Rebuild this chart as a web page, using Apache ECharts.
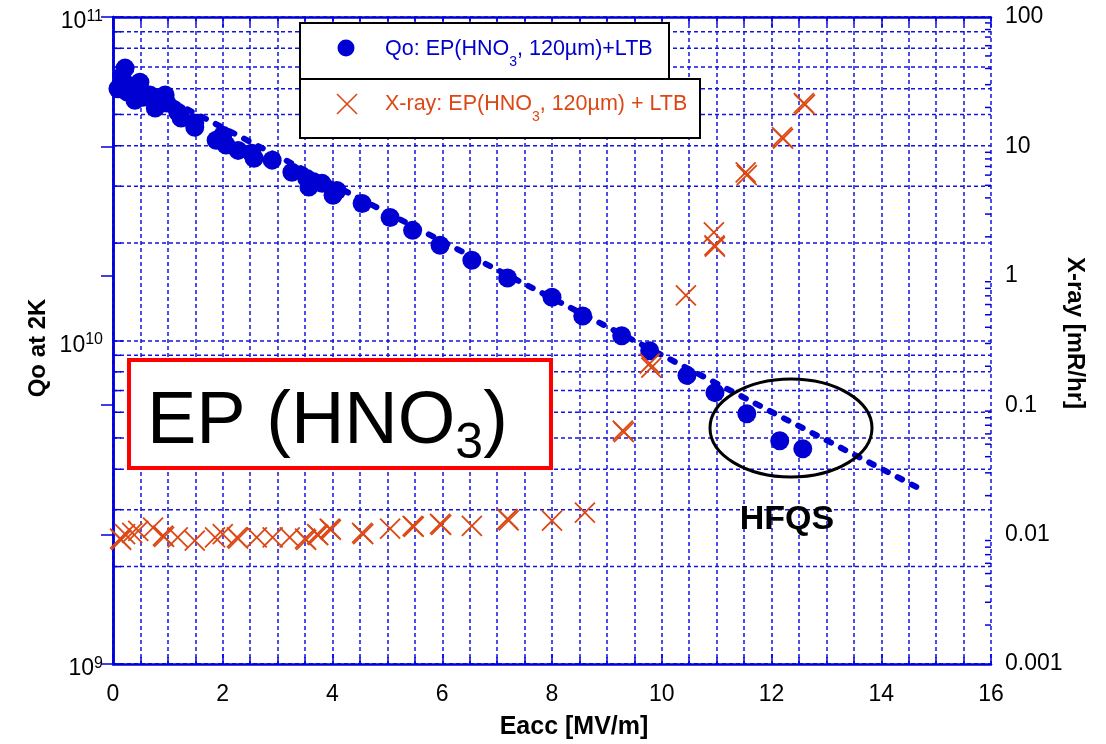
<!DOCTYPE html>
<html>
<head>
<meta charset="utf-8">
<script src="https://cdn.jsdelivr.net/npm/echarts@6/dist/echarts.min.js"></script>
<style>
  html, body { margin: 0; padding: 0; background: #fff; }
  #chart { width: 1106px; height: 744px; }
</style>
</head>
<body>
<div id="chart"></div>
<script>
// Qo at 2K versus accelerating gradient (EP in HNO3, 120 um removal + LTB)
const qoEacc = [0.09, 0.18, 0.22, 0.26, 0.36, 0.40, 0.49, 0.55, 0.67, 0.77, 0.77, 0.95, 0.98,
  1.18, 1.24, 1.49, 1.49, 1.88, 2.00, 2.06, 2.28, 2.53, 2.57, 2.90, 3.26, 3.53, 3.57, 3.81,
  4.01, 4.08, 4.54, 5.05, 5.46, 5.96, 6.54, 7.19, 8.00, 8.56, 9.27, 9.78, 10.46, 10.97,
  11.55, 12.15, 12.57];
const qoValue = [6.0e10, 6.38e10, 6.95e10, 5.86e10, 6.07e10, 5.53e10, 6.29e10, 5.65e10, 5.74e10,
  5.61e10, 5.23e10, 5.74e10, 5.42e10, 5.08e10, 4.87e10, 4.70e10, 4.56e10, 4.16e10, 4.31e10,
  4.02e10, 3.87e10, 3.79e10, 3.66e10, 3.61e10, 3.31e10, 3.17e10, 2.98e10, 3.06e10, 2.81e10,
  2.91e10, 2.65e10, 2.40e10, 2.19e10, 1.97e10, 1.77e10, 1.56e10, 1.36e10, 1.19e10, 1.035e10,
  9.3e9, 7.8e9, 6.9e9, 5.94e9, 4.90e9, 4.63e9];

// Exponential trend line (end points)
const fitEacc = [-0.2, 14.75];
const fitQo = [7.1e10, 3.45e9];

// Radiation level [mR/hr]
const xrayEacc = [0.13, 0.15, 0.22, 0.35, 0.46, 0.73, 0.91, 0.93, 1.18, 1.49, 1.86, 2.00, 2.26, 2.28,
  2.62, 2.91, 3.22, 3.50, 3.52, 3.72, 3.74, 3.95, 3.97, 4.54, 4.56, 5.05, 5.46, 5.48, 5.96, 5.98,
  6.54, 7.19, 7.21, 8.00, 8.60, 9.29, 9.31, 9.78, 9.81, 10.44, 10.95, 10.96, 10.97, 11.53, 11.55,
  12.19, 12.21, 12.59, 12.61];
const xrayValue = [0.0093, 0.0091, 0.0101, 0.0103, 0.0107, 0.0113, 0.0098, 0.0096, 0.0095, 0.0090,
  0.0095, 0.0101, 0.0095, 0.0093, 0.0095, 0.0095, 0.0095, 0.0093, 0.0091, 0.0101, 0.0099, 0.0111,
  0.0109, 0.0103, 0.0101, 0.0111, 0.0117, 0.0115, 0.0121, 0.0119, 0.0117, 0.0132, 0.0129, 0.0128,
  0.0148, 0.0636, 0.062, 0.21, 0.195, 0.705, 2.17, 1.72, 1.68, 6.3, 6.0, 11.8, 11.5, 21.6, 21.0];

// Axis ticks
const xTickLabels = ['0', '2', '4', '6', '8', '10', '12', '14', '16'];
const qoTickExponents = ['9', '10', '11'];
const qoMinorTicks = [2e9, 3e9, 4e9, 5e9, 6e9, 7e9, 8e9, 9e9, 2e10, 3e10, 4e10, 5e10, 6e10, 7e10, 8e10, 9e10];
const xrayTickLabels = ['0.001', '0.01', '0.1', '1', '10', '100'];
const xrayMinorTicks = [];
[0.001, 0.01, 0.1, 1, 10].forEach(function (d) {
  [2, 3, 4, 5, 6, 7, 8, 9].forEach(function (m) { xrayMinorTicks.push(+(d * m).toPrecision(3)); });
});

const FONT = "'Liberation Sans', Arial, Helvetica, sans-serif";
const AXIS = '#0000dd';
const GRID = '#1414e0';
const BLUE = '#0000d2';
const ORANGE = '#dc4814';
const X_MIN = 0, X_MAX = 16;

const chart = echarts.init(document.getElementById('chart'), null, { renderer: 'canvas' });

function minorGrid(params, api) {
  const v = api.value(1);
  const a = api.coord([X_MIN, v]);
  const b = api.coord([X_MAX, v]);
  return {
    type: 'group',
    children: [
      { type: 'line', shape: { x1: a[0], y1: a[1], x2: b[0], y2: b[1] },
        style: { stroke: GRID, lineWidth: 1.5, lineDash: [4, 3] } },
      { type: 'line', shape: { x1: a[0], y1: a[1], x2: a[0] + 8, y2: a[1] },
        style: { stroke: AXIS, lineWidth: 1.5 } }
    ]
  };
}

function rightMinorTick(params, api) {
  const p = api.coord([X_MAX, api.value(1)]);
  return { type: 'line', shape: { x1: p[0] - 6, y1: p[1], x2: p[0], y2: p[1] },
    style: { stroke: AXIS, lineWidth: 1.5 } };
}

// rich text with a lowered subscript: the main token is centred in the line,
// the subscript sits at the bottom of a taller line box
function subText(main, sub, tail, size, subSize, drop, color) {
  return {
    text: '{a|' + main + '}{s|' + sub + '}{a|' + tail + '}',
    align: 'left', verticalAlign: 'middle',
    rich: {
      a: { fontFamily: FONT, fontSize: size, fill: color, verticalAlign: 'middle' },
      s: { fontFamily: FONT, fontSize: subSize, lineHeight: 2 * drop + subSize, fill: color, verticalAlign: 'bottom' }
    }
  };
}

const option = {
  backgroundColor: '#ffffff',
  animation: false,
  grid: { left: 113, right: 115, top: 17, bottom: 80, containLabel: false },
  xAxis: [{
    type: 'value', min: X_MIN, max: X_MAX, interval: 2, position: 'bottom',
    axisLine: { lineStyle: { color: AXIS, width: 2.5 } },
    axisTick: { inside: true, length: 10, lineStyle: { color: AXIS, width: 1.5 } },
    minorTick: { show: true, splitNumber: 4, length: 7, lineStyle: { color: AXIS, width: 1.5 } },
    splitLine: { show: true, lineStyle: { color: GRID, width: 1.5, type: [4, 3] } },
    minorSplitLine: { show: true, lineStyle: { color: GRID, width: 1.5, type: [4, 3] } },
    axisLabel: { fontFamily: FONT, fontSize: 23, color: '#000', margin: 19,
      formatter: function (v) { return xTickLabels[Math.round(v / 2)]; } }
  }, {
    type: 'value', min: X_MIN, max: X_MAX, interval: 2, position: 'top',
    axisLine: { lineStyle: { color: AXIS, width: 2.5 } },
    axisTick: { inside: true, length: 10, lineStyle: { color: AXIS, width: 1.5 } },
    minorTick: { show: true, splitNumber: 4, length: 7, lineStyle: { color: AXIS, width: 1.5 } },
    splitLine: { show: false }, axisLabel: { show: false }
  }],
  yAxis: [{
    type: 'log', logBase: 10, min: 1e9, max: 1e11, position: 'left',
    axisLine: { show: true, lineStyle: { color: AXIS, width: 2.5 } },
    axisTick: { inside: true, length: 10, lineStyle: { color: AXIS, width: 1.5 } },
    splitLine: { show: true, lineStyle: { color: GRID, width: 1.5, type: [4, 3] } },
    axisLabel: {
      margin: 10, showMinLabel: true, showMaxLabel: true, padding: [10, 0, 0, 0],
      formatter: function (v) {
        const e = Math.round(Math.log10(v));
        return '{b|10}{s|' + qoTickExponents[e - 9] + '}';
      },
      rich: {
        b: { fontFamily: FONT, fontSize: 23, lineHeight: 23, color: '#000', verticalAlign: 'bottom' },
        s: { fontFamily: FONT, fontSize: 16, lineHeight: 16, color: '#000', verticalAlign: 'bottom',
             padding: [0, 0, 9, 0] }
      }
    }
  }, {
    type: 'log', logBase: 10, min: 0.001, max: 100, position: 'right',
    axisLine: { show: true, lineStyle: { color: AXIS, width: 2.5 } },
    axisTick: { show: true, inside: true, length: 12, lineStyle: { color: AXIS, width: 1.5 } },
    splitLine: { show: false },
    axisLabel: {
      fontFamily: FONT, fontSize: 23, color: '#000', margin: 14, showMinLabel: true, showMaxLabel: true,
      formatter: function (v) { return xrayTickLabels[Math.round(Math.log10(v)) + 3]; }
    }
  }],
  series: [{
    type: 'custom', name: 'qoGrid', xAxisIndex: 0, yAxisIndex: 0, silent: true, z: 1,
    renderItem: minorGrid,
    data: qoMinorTicks.map(function (v) { return [X_MIN, v]; })
  }, {
    type: 'custom', name: 'xrayTicks', xAxisIndex: 0, yAxisIndex: 1, silent: true, z: 1,
    renderItem: rightMinorTick,
    data: xrayMinorTicks.map(function (v) { return [X_MAX, v]; })
  }, {
    type: 'line', name: 'fit', xAxisIndex: 0, yAxisIndex: 0, clip: false, z: 3,
    symbol: 'none', silent: true,
    lineStyle: { color: BLUE, width: 6, type: [5, 11], cap: 'round' },
    data: fitEacc.map(function (e, i) { return [e, fitQo[i]]; })
  }, {
    type: 'scatter', name: 'Qo', xAxisIndex: 0, yAxisIndex: 0, z: 4,
    symbol: 'circle', symbolSize: 19,
    itemStyle: { color: BLUE, opacity: 1 },
    data: qoEacc.map(function (e, i) { return [e, qoValue[i]]; })
  }, {
    type: 'scatter', name: 'X-ray', xAxisIndex: 0, yAxisIndex: 1, z: 5,
    symbol: 'path://M0,0L20,20M20,0L0,20', symbolSize: 20,
    itemStyle: { color: 'none', borderColor: ORANGE, borderWidth: 1.8, opacity: 1 },
    data: xrayEacc.map(function (e, i) { return [e, xrayValue[i]]; })
  }],
  graphic: [
    // legend boxes
    { type: 'rect', z: 20, shape: { x: 300, y: 23, width: 369, height: 56 },
      style: { fill: '#fff', stroke: '#000', lineWidth: 2 } },
    { type: 'rect', z: 20, shape: { x: 300, y: 79, width: 400, height: 59 },
      style: { fill: '#fff', stroke: '#000', lineWidth: 2 } },
    { type: 'circle', z: 21, shape: { cx: 346, cy: 48, r: 8.5 }, style: { fill: BLUE } },
    { type: 'line', z: 21, shape: { x1: 337, y1: 94, x2: 357, y2: 114 }, style: { stroke: ORANGE, lineWidth: 1.6 } },
    { type: 'line', z: 21, shape: { x1: 357, y1: 94, x2: 337, y2: 114 }, style: { stroke: ORANGE, lineWidth: 1.6 } },
    { type: 'text', z: 21, x: 385, y: 49.5,
      style: subText('Qo: EP(HNO', '3', ', 120µm)+LTB', 21.5, 14, 13, '#0000cc') },
    { type: 'text', z: 21, x: 385, y: 104.5,
      style: subText('X-ray: EP(HNO', '3', ', 120µm) + LTB', 21.5, 14, 13, ORANGE) },
    // EP (HNO3) label box
    { type: 'rect', z: 20, shape: { x: 129, y: 360, width: 422, height: 108 },
      style: { fill: '#fff', stroke: '#ff0000', lineWidth: 4 } },
    { type: 'text', z: 21, x: 147, y: 423,
      style: subText('EP (HNO', '3', ')', 74, 50, 21, '#000') },
    // HFQS marker
    { type: 'ellipse', z: 21, shape: { cx: 791, cy: 428, rx: 81, ry: 49 },
      style: { fill: 'none', stroke: '#000', lineWidth: 3 } },
    { type: 'text', z: 21, x: 787, y: 520,
      style: { text: 'HFQS', align: 'center', verticalAlign: 'middle', fill: '#000',
        font: 'bold 34px ' + FONT } },
    // axis titles
    { type: 'text', z: 21, x: 574, y: 727,
      style: { text: 'Eacc [MV/m]', align: 'center', verticalAlign: 'middle', fill: '#000',
        font: 'bold 25px ' + FONT } },
    { type: 'text', z: 21, x: 38, y: 348, rotation: Math.PI / 2,
      style: { text: 'Qo at 2K', align: 'center', verticalAlign: 'middle', fill: '#000',
        font: 'bold 24px ' + FONT } },
    { type: 'text', z: 21, x: 1075, y: 333, rotation: -Math.PI / 2,
      style: { text: 'X-ray [mR/hr]', align: 'center', verticalAlign: 'middle', fill: '#000',
        font: 'bold 24px ' + FONT } }
  ]
};

chart.setOption(option);
</script>
</body>
</html>
